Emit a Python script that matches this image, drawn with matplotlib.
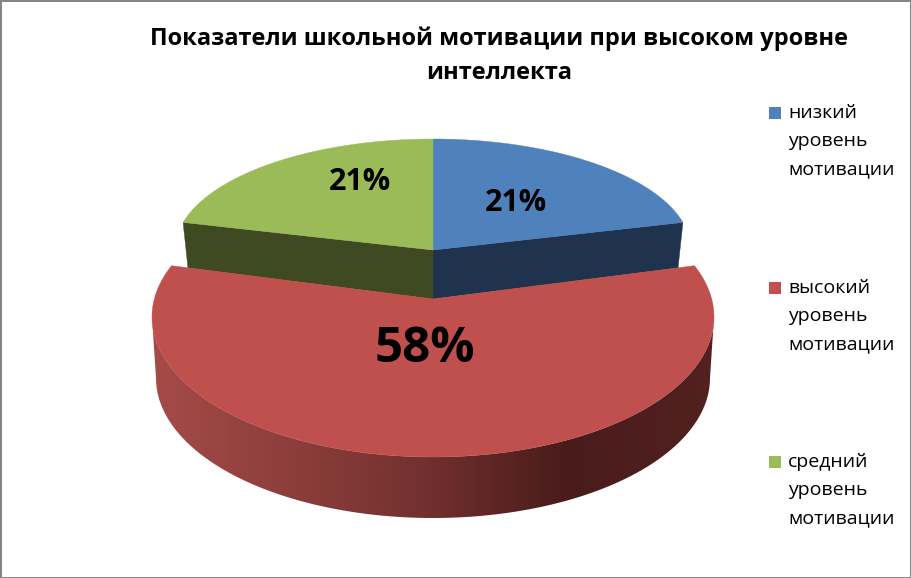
import numpy as np
import matplotlib
matplotlib.use("Agg")
import matplotlib.pyplot as plt
from matplotlib.patches import Polygon, Rectangle
from matplotlib.colors import LinearSegmentedColormap

title = "Показатели школьной мотивации при высоком уровне\nинтеллекта"
categories = ["низкий\nуровень\nмотивации", "высокий\nуровень\nмотивации", "средний\nуровень\nмотивации"]
values = [21, 58, 21]
pct_labels = ["21%", "58%", "21%"]
colors = ["#4F81BD", "#C0504D", "#9BBB59"]
wall_colors = ["#1F334F", None, "#404A22"]

W, H = 912, 578
plt.rcParams['font.family'] = ['Open Sans', 'DejaVu Sans']
fig = plt.figure(figsize=(W / 100, H / 100), dpi=100)
ax = fig.add_axes([0, 0, 1, 1])
ax.set_xlim(0, W)
ax.set_ylim(H, 0)
ax.axis("off")

fracs = np.array(values) / sum(values)
edges = np.concatenate([[0], np.cumsum(fracs)]) * 2 * np.pi


def arc(cx, cy, rx, ry, a0, a1, n=200):
    t = np.linspace(a0, a1, n)
    return np.c_[cx + rx * np.sin(t), cy - ry * np.cos(t)]


CX = 433
BACK = dict(cx=CX, cy=250, rx=258, ry=111)
BACK_LOW = dict(cx=CX, cy=299, rx=253, ry=125)
RED_TOP = dict(cx=CX, cy=317, rx=281, ry=140)
RED_LOW = dict(cx=CX, cy=378, rx=277, ry=140)
RED_APEX = (CX, 299)

# back slices: cut walls then top faces
for i in (0, 2):
    near = edges[1] if i == 0 else edges[2]
    top_c = arc(**BACK, a0=near, a1=near, n=1)[0]
    low_c = arc(**BACK_LOW, a0=near, a1=near, n=1)[0]
    ax.add_patch(Polygon([(CX, 250), top_c, low_c, (CX, 299)], closed=True,
                         fc=wall_colors[i], ec=wall_colors[i], lw=0.3, zorder=2))
    face = arc(**BACK, a0=edges[i], a1=edges[i + 1])
    ax.add_patch(Polygon(np.vstack([[(CX, 250)], face]), closed=True,
                         fc=colors[i], ec=colors[i], lw=0.3, zorder=3))

# front slice: perspective widens its visible angle a little
mid = np.pi
warp = (np.pi - np.radians(68.5)) / (np.pi - edges[1])
a0 = mid + (edges[1] - mid) * warp
a1 = mid + (edges[2] - mid) * warp

# outer wall with horizontal gradient
wall_t = arc(**RED_TOP, a0=np.pi / 2, a1=3 * np.pi / 2)
wall_b = arc(**RED_LOW, a0=np.pi / 2, a1=3 * np.pi / 2)
wall = Polygon(np.vstack([wall_t, wall_b[::-1]]), closed=True, fc="none", ec="none", transform=ax.transData)
ax.add_patch(wall)
cmap = LinearSegmentedColormap.from_list("wall", [
    (0.0, "#A54B48"), (0.30, "#873B39"), (0.50, "#702F2E"), (0.70, "#4F1F1E"),
    (0.74, "#491C1B"), (1.0, "#522120")])
im = ax.imshow(np.linspace(0, 1, 512)[None, :], cmap=cmap, extent=[152, 714, 520, 300],
               aspect="auto", zorder=4)
im.set_clip_path(wall)
ax.set_xlim(0, W)
ax.set_ylim(H, 0)

face = arc(**RED_TOP, a0=a0, a1=a1, n=400)
ax.add_patch(Polygon(np.vstack([[RED_APEX], face]), closed=True, fc=colors[1], ec=colors[1], lw=0.3, zorder=5))

# data labels
ax.text(515.5, 203, pct_labels[0], fontsize=22, fontweight="bold", ha="center", va="center", color="k", zorder=6)
ax.text(360, 182, pct_labels[2], fontsize=22, fontweight="bold", ha="center", va="center", color="k", zorder=6)
ax.text(425, 350, pct_labels[1], fontsize=35.5, fontweight="bold", ha="center", va="center", color="k", zorder=6)

# title
ax.text(499, 56, title, fontsize=17, fontweight="bold", ha="center", va="center", linespacing=1.56, color="k")

# legend
for cat, col, y in zip(categories, colors, (113, 288, 462)):
    ax.add_patch(Rectangle((769, y - 6), 12, 12, fc=col, ec="none"))
    ax.text(788, y - 9, cat, fontsize=14, va="top", ha="left", linespacing=1.72, color="k")

# frame: 2 px on three sides, 1 px at the bottom
frame = "#868686"
for r in ((0, 0, W, 2), (0, 0, 2, H), (W - 2, 0, 2, H), (0, H - 1, W, 1)):
    ax.add_patch(Rectangle(r[:2], r[2], r[3], fc=frame, ec="none", zorder=7))

fig.savefig("out.png", dpi=100)
